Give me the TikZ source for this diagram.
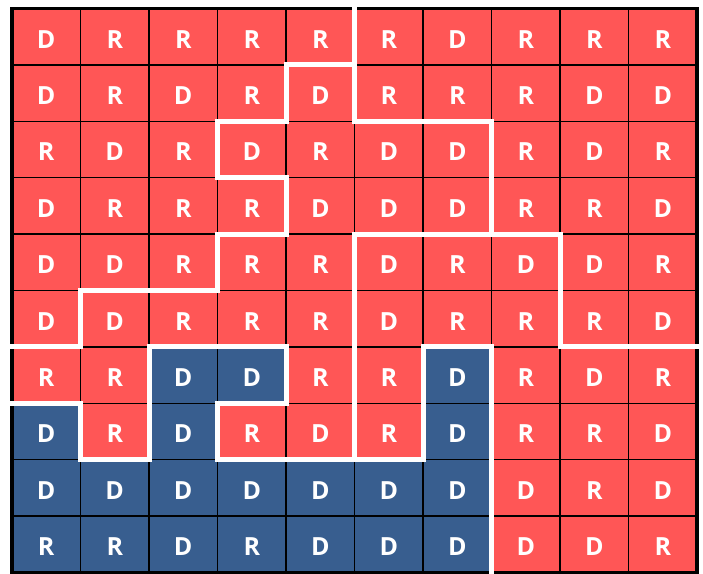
\documentclass[tikz,border=0pt]{standalone}
\usepackage{fontspec}
\setmainfont{Open Sans}
\definecolor{cellr}{HTML}{FF5656}
\definecolor{cellb}{HTML}{385E8F}
\begin{document}
\begin{tikzpicture}[x=1pt,y=-1pt]
\tikzset{
  cellbox/.style={draw=black, line width=1.3pt, minimum width=68.5pt, minimum height=56.4pt, inner sep=0pt, outer sep=0pt},
  celltext/.style={text=white, font=\fontsize{25}{25}\selectfont\bfseries, inner sep=0pt},
  gridborder/.style={draw=black, line width=3.5pt},
  district/.style={draw=white, line width=5pt, line cap=rect, line join=miter}
}
\useasboundingbox (0,0) rectangle (703,573);
\begin{scope}[shift={(12,8.5)}, x=68.5pt, y=-56.4pt]
\foreach \r/\row in {
  0/{r/D,r/R,r/R,r/R,r/R,r/R,r/D,r/R,r/R,r/R},
  1/{r/D,r/R,r/D,r/R,r/D,r/R,r/R,r/R,r/D,r/D},
  2/{r/R,r/D,r/R,r/D,r/R,r/D,r/D,r/R,r/D,r/R},
  3/{r/D,r/R,r/R,r/R,r/D,r/D,r/D,r/R,r/R,r/D},
  4/{r/D,r/D,r/R,r/R,r/R,r/D,r/R,r/D,r/D,r/R},
  5/{r/D,r/D,r/R,r/R,r/R,r/D,r/R,r/R,r/R,r/D},
  6/{r/R,r/R,b/D,b/D,r/R,r/R,b/D,r/R,r/D,r/R},
  7/{b/D,r/R,b/D,r/R,r/D,r/R,b/D,r/R,r/R,r/D},
  8/{b/D,b/D,b/D,b/D,b/D,b/D,b/D,r/D,r/R,r/D},
  9/{b/R,b/R,b/D,b/R,b/D,b/D,b/D,r/D,r/D,r/R}} {
  \foreach \k/\l [count=\c from 0] in \row {
    \node[cellbox, fill=cell\k] (c-\r-\c) at (\c+0.5,\r+0.5) {};
    \node[celltext] (t-\r-\c) at ([yshift=-2.5pt]c-\r-\c.center) {\l};
  }
}
\draw[gridborder] (0,0) rectangle (10,10);
% district boundaries
\draw[district] (5,-0.12) -- (5,2) -- (7,2) -- (7,4);
\draw[district] (5,1) -- (4,1) -- (4,2) -- (3,2) -- (3,3) -- (4,3) -- (4,4) -- (3,4) -- (3,5) -- (1,5) -- (1,6) -- (-0.1,6);
\draw[district] (5,8) -- (5,4) -- (8,4) -- (8,6) -- (10.1,6);
\draw[district] (3,8) -- (6,8) -- (6,6) -- (7,6) -- (7,10.1);
\draw[district] (2,8) -- (2,6) -- (4,6) -- (4,7) -- (3,7) -- (3,8);
\draw[district] (-0.1,7) -- (1,7) -- (1,8) -- (2,8);
\end{scope}
\end{tikzpicture}
\end{document}
